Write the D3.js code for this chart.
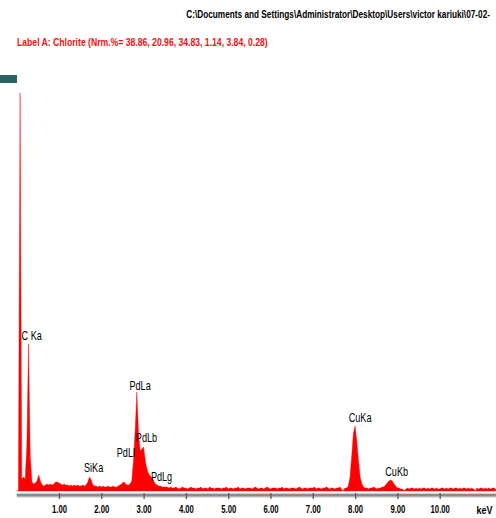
<!DOCTYPE html>
<html>
<head>
<meta charset="utf-8">
<script src="https://cdn.jsdelivr.net/npm/d3@7"></script>
<style>
  html, body { margin: 0; padding: 0; background: #fff; overflow: hidden; }
  svg { display: block; }
</style>
</head>
<body>
<svg id="chart" width="496" height="518"></svg>
<script>
// ---- EDS spectrum data ----
const filePath = "C:\\Documents and Settings\\Administrator\\Desktop\\Users\\victor kariuki\\07-02-";
const sampleLabel = "Label A: Chlorite (Nrm.%= 38.86, 20.96, 34.83, 1.14, 3.84, 0.28)";

// channel width of the spectrum, keV
const channelWidthKeV = 0.04;

// counts per channel, starting at 0 keV
const counts = [
  0, 0, 3980, 120, 140, 120, 450, 1470, 350, 90,
  70, 80, 100, 160, 100, 60, 50, 60, 70, 60,
  70, 60, 70, 90, 90, 80, 70, 60, 70, 60,
  60, 50, 60, 50, 60, 50, 60, 50, 50, 60,
  50, 60, 90, 140, 110, 60, 50, 50, 40, 50,
  40, 50, 40, 40, 50, 40, 40, 50, 40, 40,
  50, 60, 70, 90, 80, 60, 60, 70, 100, 300,
  600, 990, 580, 400, 420, 440, 300, 220, 170, 150,
  130, 100, 70, 60, 50, 50, 40, 40, 40, 40,
  30, 40, 30, 30, 40, 30, 20, 30, 40, 30,
  30, 20, 30, 40, 30, 30, 20, 30, 30, 40,
  20, 30, 30, 20, 40, 30, 30, 20, 30, 30,
  30, 20, 30, 30, 40, 20, 30, 30, 20, 30,
  30, 40, 20, 30, 30, 20, 30, 30, 30, 20,
  30, 40, 30, 20, 30, 30, 20, 30, 40, 30,
  20, 30, 30, 30, 20, 30, 30, 40, 20, 30,
  30, 20, 30, 30, 30, 20, 30, 40, 30, 20,
  30, 30, 20, 30, 30, 30, 40, 20, 30, 30,
  20, 30, 30, 40, 30, 20, 30, 30, 20, 30,
  30, 40, 20, 0, 30, 30, 50, 140, 350, 580,
  650, 500, 300, 140, 70, 40, 30, 30, 20, 30,
  30, 40, 30, 20, 30, 30, 40, 40, 60, 80,
  100, 110, 100, 70, 50, 30, 30, 20, 20, 0,
  20, 30, 20, 30, 30, 20, 30, 20, 30, 20,
  30, 30, 20, 30, 20, 30, 30, 20, 30, 20,
  20, 30, 30, 20, 30, 20, 30, 30, 20, 30,
  30, 20, 30, 20, 30, 30, 20, 30, 20, 30,
  20, 0, 30, 20, 30, 30, 20, 30, 20, 30,
  20, 30, 30, 20
];

// identified lines: name, line energy (keV), marker height (counts)
const peakLabels   = ["C Ka", "SiKa", "PdLl", "PdLa", "PdLb", "PdLg", "CuKa", "CuKb"];
const peakEnergies = [0.277, 1.740, 2.503, 2.838, 2.990, 3.172, 8.040, 8.904];
const peakHeights  = [1480, 160, 315, 980, 465, 75, 660, 120];

const tickValues = [1, 2, 3, 4, 5, 6, 7, 8, 9, 10];
const axisUnit = "keV";

// ---- layout ----
const svg = d3.select("#chart");
const W = 496, H = 518;
const plot = { left: 16.7, zeroY: 491, topY: 91, axisY: 495 };

const x = d3.scaleLinear().domain([0, 11]).range([plot.left, plot.left + 42.3 * 11]);
const y = d3.scaleLinear().domain([0, 4000]).range([plot.zeroY, plot.topY]);

const labelFont = "'Liberation Sans', Arial, Helvetica, sans-serif";

// draws a condensed header line squeezed horizontally to a given width
function headerLine(text, anchorX, baseY, width, anchor, color) {
  const t = svg.append("text")
    .attr("text-anchor", anchor)
    .attr("font-family", labelFont).attr("font-size", 11.5).attr("font-weight", "bold")
    .attr("fill", color)
    .text(text);
  const natural = t.node().getComputedTextLength();
  const sx = width / natural;
  t.attr("transform", `translate(${anchorX},${baseY}) scale(${sx},1)`);
  return t;
}

// file path is right-aligned against the window edge
headerLine(filePath, 490, 18, 304, "end", "#000");
headerLine(sampleLabel, 17, 45.5, 251, "start", "#ee1111");

// full-scale marker block
svg.append("rect")
  .attr("x", 0).attr("y", 75).attr("width", 17).attr("height", 8)
  .attr("fill", "#2f6262");

// spectrum
const spectrum = counts.map((c, i) => ({ e: i * channelWidthKeV, c }));
const area = d3.area()
  .x(d => x(d.e))
  .y0(y(0))
  .y1(d => y(d.c))
  .curve(d3.curveLinear);

svg.append("path")
  .datum(spectrum)
  .attr("d", area)
  .attr("fill", "#ff0000")
  .attr("stroke", "#ff0000")
  .attr("stroke-width", 0.4);

// x axis band
const axisBand = [
  { dy: -2, h: 1, c: "#d2d2d2" },
  { dy: -1, h: 2, c: "#8a8a8a" },
  { dy: 1, h: 1, c: "#b4b4b4" },
  { dy: 2, h: 1, c: "#e2e2e2" }
];
svg.append("g").selectAll("rect").data(axisBand).join("rect")
  .attr("x", plot.left).attr("width", W - plot.left)
  .attr("y", d => plot.axisY + d.dy).attr("height", d => d.h)
  .attr("fill", d => d.c);

const xAxis = d3.axisBottom(x)
  .tickValues(tickValues)
  .tickFormat(d3.format(".2f"))
  .tickSizeOuter(0);

const gx = svg.append("g")
  .attr("transform", `translate(0,${plot.axisY})`)
  .call(xAxis);
gx.select(".domain").remove();
gx.selectAll(".tick line")
  .attr("y1", -2).attr("y2", 4)
  .attr("stroke", "#5a5a5a").attr("stroke-width", 1.3);
gx.selectAll(".tick text")
  .attr("y", 18.5).attr("dy", null)
  .attr("transform", "scale(0.7,1)")
  .attr("font-family", labelFont).attr("font-size", 11).attr("font-weight", "bold")
  .attr("fill", "#000");

svg.append("text")
  .attr("x", 476.5).attr("y", plot.axisY + 18.5)
  .attr("font-family", labelFont).attr("font-size", 11).attr("font-weight", "bold")
  .attr("fill", "#000")
  .attr("textLength", 16).attr("lengthAdjust", "spacingAndGlyphs")
  .text(axisUnit);

// line labels above the peaks
const startAnchored = new Set(["PdLg"]);
svg.append("g").selectAll("text")
  .data(peakLabels.map((name, i) => ({ name, e: peakEnergies[i], h: peakHeights[i] })))
  .join("text")
  .attr("transform", d => {
    const px = startAnchored.has(d.name) ? x(d.e) : x(d.e) + 3.3;
    return `translate(${px},${y(d.h) - 3}) scale(0.73,1)`;
  })
  .attr("text-anchor", d => startAnchored.has(d.name) ? "start" : "middle")
  .attr("font-family", labelFont).attr("font-size", 12.5)
  .attr("fill", "#000")
  .text(d => d.name);
</script>
</body>
</html>
